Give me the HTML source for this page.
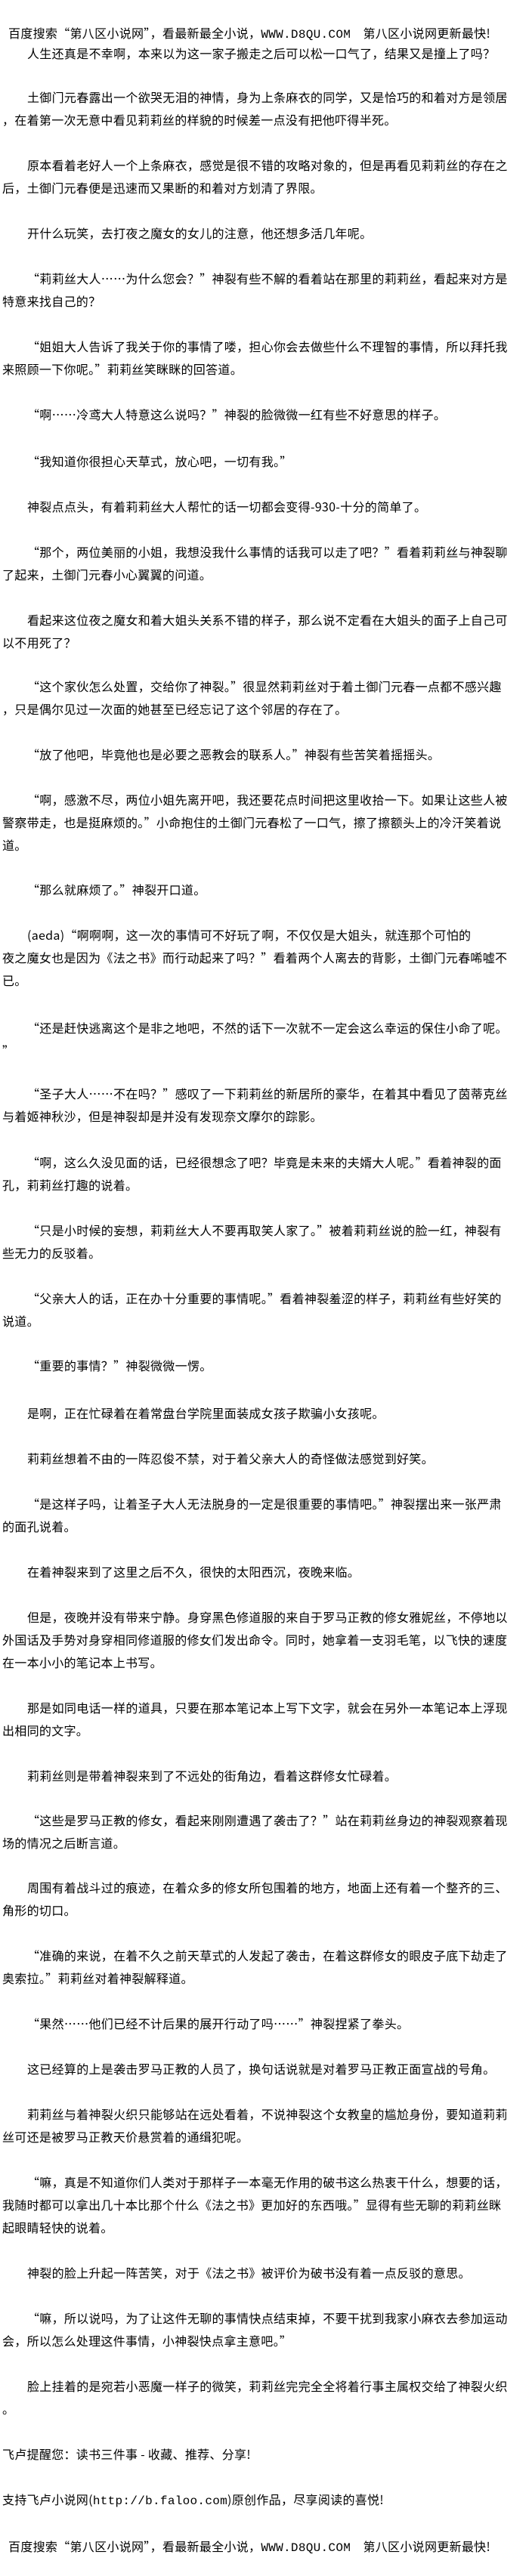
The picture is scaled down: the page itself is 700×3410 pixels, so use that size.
<!DOCTYPE html>
<html><head><meta charset="utf-8"><style>
html,body{margin:0;padding:0;background:#fff;}
body{width:700px;height:3410px;position:relative;overflow:hidden;font-family:"Noto Sans CJK SC","WenQuanYi Zen Hei",sans-serif;font-size:16px;color:#000;}
.l{position:absolute;white-space:nowrap;line-height:30px;height:30px;letter-spacing:0.3px;}
.i{left:36px}.c{left:3px}
</style></head><body>
<div class="l" style="left:11px;top:28px">百度搜索“第八区小说网”，看最新最全小说，<span style="font-family:'Liberation Mono',monospace">WWW.D8QU.COM</span>　第八区小说网更新最快!</div>
<div class="l i" style="top:55px">人生还真是不幸啊，本来以为这一家子搬走之后可以松一口气了，结果又是撞上了吗？</div>

<div class="l i" style="top:113px">土御门元春露出一个欲哭无泪的神情，身为上条麻衣的同学，又是恰巧的和着对方是领居</div>
<div class="l c" style="top:143px">，在着第一次无意中看见莉莉丝的样貌的时候差一点没有把他吓得半死。</div>

<div class="l i" style="top:203px">原本看着老好人一个上条麻衣，感觉是很不错的攻略对象的，但是再看见莉莉丝的存在之</div>
<div class="l c" style="top:233px">后，土御门元春便是迅速而又果断的和着对方划清了界限。</div>

<div class="l i" style="top:293px">开什么玩笑，去打夜之魔女的女儿的注意，他还想多活几年呢。</div>

<div class="l i" style="top:353px">“莉莉丝大人……为什么您会？”神裂有些不解的看着站在那里的莉莉丝，看起来对方是</div>
<div class="l c" style="top:383px">特意来找自己的？</div>

<div class="l i" style="top:443px">“姐姐大人告诉了我关于你的事情了喽，担心你会去做些什么不理智的事情，所以拜托我</div>
<div class="l c" style="top:473px">来照顾一下你呢。”莉莉丝笑眯眯的回答道。</div>

<div class="l i" style="top:533px">“啊……冷鸢大人特意这么说吗？”神裂的脸微微一红有些不好意思的样子。</div>

<div class="l i" style="top:595px">“我知道你很担心天草式，放心吧，一切有我。”</div>

<div class="l i" style="top:655px">神裂点点头，有着莉莉丝大人帮忙的话一切都会变得-930-十分的简单了。</div>

<div class="l i" style="top:715px">“那个，两位美丽的小姐，我想没我什么事情的话我可以走了吧？”看着莉莉丝与神裂聊</div>
<div class="l c" style="top:745px">了起来，土御门元春小心翼翼的问道。</div>

<div class="l i" style="top:805px">看起来这位夜之魔女和着大姐头关系不错的样子，那么说不定看在大姐头的面子上自己可</div>
<div class="l c" style="top:835px">以不用死了？</div>

<div class="l i" style="top:893px">“这个家伙怎么处置，交给你了神裂。”很显然莉莉丝对于着土御门元春一点都不感兴趣</div>
<div class="l c" style="top:923px">，只是偶尔见过一次面的她甚至已经忘记了这个邻居的存在了。</div>

<div class="l i" style="top:983px">“放了他吧，毕竟他也是必要之恶教会的联系人。”神裂有些苦笑着摇摇头。</div>

<div class="l i" style="top:1043px">“啊，感激不尽，两位小姐先离开吧，我还要花点时间把这里收拾一下。如果让这些人被</div>
<div class="l c" style="top:1073px">警察带走，也是挺麻烦的。”小命抱住的土御门元春松了一口气，擦了擦额头上的冷汗笑着说</div>
<div class="l c" style="top:1103px">道。</div>

<div class="l i" style="top:1162px">“那么就麻烦了。”神裂开口道。</div>

<div class="l i" style="top:1222px">(aeda)“啊啊啊，这一次的事情可不好玩了啊，不仅仅是大姐头，就连那个可怕的</div>
<div class="l c" style="top:1252px">夜之魔女也是因为《法之书》而行动起来了吗？”看着两个人离去的背影，土御门元春唏嘘不</div>
<div class="l c" style="top:1282px">已。</div>

<div class="l i" style="top:1345px">“还是赶快逃离这个是非之地吧，不然的话下一次就不一定会这么幸运的保住小命了呢。</div>
<div class="l c" style="top:1375px">”</div>

<div class="l i" style="top:1432px">“圣子大人……不在吗？”感叹了一下莉莉丝的新居所的豪华，在着其中看见了茵蒂克丝</div>
<div class="l c" style="top:1462px">与着姬神秋沙，但是神裂却是并没有发现奈文摩尔的踪影。</div>

<div class="l i" style="top:1523px">“啊，这么久没见面的话，已经很想念了吧？毕竟是未来的夫婿大人呢。”看着神裂的面</div>
<div class="l c" style="top:1553px">孔，莉莉丝打趣的说着。</div>

<div class="l i" style="top:1613px">“只是小时候的妄想，莉莉丝大人不要再取笑人家了。”被着莉莉丝说的脸一红，神裂有</div>
<div class="l c" style="top:1643px">些无力的反驳着。</div>

<div class="l i" style="top:1703px">“父亲大人的话，正在办十分重要的事情呢。”看着神裂羞涩的样子，莉莉丝有些好笑的</div>
<div class="l c" style="top:1733px">说道。</div>

<div class="l i" style="top:1792px">“重要的事情？”神裂微微一愣。</div>

<div class="l i" style="top:1855px">是啊，正在忙碌着在着常盘台学院里面装成女孩子欺骗小女孩呢。</div>

<div class="l i" style="top:1915px">莉莉丝想着不由的一阵忍俊不禁，对于着父亲大人的奇怪做法感觉到好笑。</div>

<div class="l i" style="top:1975px">“是这样子吗，让着圣子大人无法脱身的一定是很重要的事情吧。”神裂摆出来一张严肃</div>
<div class="l c" style="top:2005px">的面孔说着。</div>

<div class="l i" style="top:2065px">在着神裂来到了这里之后不久，很快的太阳西沉，夜晚来临。</div>

<div class="l i" style="top:2125px">但是，夜晚并没有带来宁静。身穿黑色修道服的来自于罗马正教的修女雅妮丝，不停地以</div>
<div class="l c" style="top:2155px">外国话及手势对身穿相同修道服的修女们发出命令。同时，她拿着一支羽毛笔，以飞快的速度</div>
<div class="l c" style="top:2185px">在一本小小的笔记本上书写。</div>

<div class="l i" style="top:2245px">那是如同电话一样的道具，只要在那本笔记本上写下文字，就会在另外一本笔记本上浮现</div>
<div class="l c" style="top:2275px">出相同的文字。</div>

<div class="l i" style="top:2335px">莉莉丝则是带着神裂来到了不远处的街角边，看着这群修女忙碌着。</div>

<div class="l i" style="top:2394px">“这些是罗马正教的修女，看起来刚刚遭遇了袭击了？”站在莉莉丝身边的神裂观察着现</div>
<div class="l c" style="top:2424px">场的情况之后断言道。</div>

<div class="l i" style="top:2483px">周围有着战斗过的痕迹，在着众多的修女所包围着的地方，地面上还有着一个整齐的三、</div>
<div class="l c" style="top:2513px">角形的切口。</div>

<div class="l i" style="top:2573px">“准确的来说，在着不久之前天草式的人发起了袭击，在着这群修女的眼皮子底下劫走了</div>
<div class="l c" style="top:2603px">奥索拉。”莉莉丝对着神裂解释道。</div>

<div class="l i" style="top:2663px">“果然……他们已经不计后果的展开行动了吗……”神裂捏紧了拳头。</div>

<div class="l i" style="top:2723px">这已经算的上是袭击罗马正教的人员了，换句话说就是对着罗马正教正面宣战的号角。</div>

<div class="l i" style="top:2783px">莉莉丝与着神裂火织只能够站在远处看着，不说神裂这个女教皇的尴尬身份，要知道莉莉</div>
<div class="l c" style="top:2813px">丝可还是被罗马正教天价悬赏着的通缉犯呢。</div>

<div class="l i" style="top:2873px">“嘛，真是不知道你们人类对于那样子一本毫无作用的破书这么热衷干什么，想要的话，</div>
<div class="l c" style="top:2903px">我随时都可以拿出几十本比那个什么《法之书》更加好的东西哦。”显得有些无聊的莉莉丝眯</div>
<div class="l c" style="top:2933px">起眼睛轻快的说着。</div>

<div class="l i" style="top:2993px">神裂的脸上升起一阵苦笑，对于《法之书》被评价为破书没有着一点反驳的意思。</div>

<div class="l i" style="top:3053px">“嘛，所以说吗，为了让这件无聊的事情快点结束掉，不要干扰到我家小麻衣去参加运动</div>
<div class="l c" style="top:3083px">会，所以怎么处理这件事情，小神裂快点拿主意吧。”</div>

<div class="l i" style="top:3143px">脸上挂着的是宛若小恶魔一样子的微笑，莉莉丝完完全全将着行事主属权交给了神裂火织</div>
<div class="l c" style="top:3173px">。</div>

<div class="l c" style="top:3233px">飞卢提醒您：读书三件事 - 收藏、推荐、分享!</div>

<div class="l c" style="top:3293px">支持飞卢小说网(<span style="font-family:'Liberation Mono',monospace">http://b.faloo.com</span>)原创作品，尽享阅读的喜悦!</div>

<div class="l" style="left:11px;top:3355px">百度搜索“第八区小说网”，看最新最全小说，<span style="font-family:'Liberation Mono',monospace">WWW.D8QU.COM</span>　第八区小说网更新最快!</div>
</body></html>
